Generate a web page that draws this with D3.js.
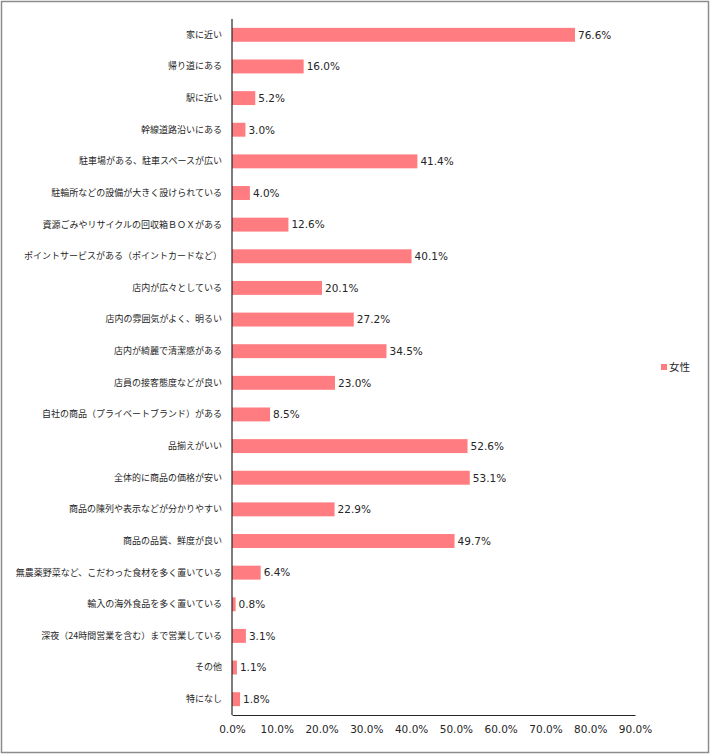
<!DOCTYPE html>
<html>
<head>
<meta charset="utf-8">
<script src="https://cdn.jsdelivr.net/npm/d3@7"></script>
<style>
  body { margin: 0; background: #fff; }
  svg { display: block; }
</style>
</head>
<body>
<div id="chart"></div>
<script>
const categories = [
  "家に近い",
  "帰り道にある",
  "駅に近い",
  "幹線道路沿いにある",
  "駐車場がある、駐車スペースが広い",
  "駐輪所などの設備が大きく設けられている",
  "資源ごみやリサイクルの回収箱ＢＯＸがある",
  "ポイントサービスがある（ポイントカードなど）",
  "店内が広々としている",
  "店内の雰囲気がよく、明るい",
  "店内が綺麗で清潔感がある",
  "店員の接客態度などが良い",
  "自社の商品（プライベートブランド）がある",
  "品揃えがいい",
  "全体的に商品の価格が安い",
  "商品の陳列や表示などが分かりやすい",
  "商品の品質、鮮度が良い",
  "無農薬野菜など、こだわった食材を多く置いている",
  "輸入の海外食品を多く置いている",
  "深夜（24時間営業を含む）まで営業している",
  "その他",
  "特になし",
];
const femaleValues = [76.6, 16.0, 5.2, 3.0, 41.4, 4.0, 12.6, 40.1, 20.1, 27.2, 34.5, 23.0, 8.5, 52.6, 53.1, 22.9, 49.7, 6.4, 0.8, 3.1, 1.1, 1.8];
const xTicks = [0, 10, 20, 30, 40, 50, 60, 70, 80, 90];
const seriesName = "女性";

const width = 710;
const height = 754;
const margin = { top: 19, left: 232, right: 75, bottom: 39 };
const barColor = "#ff7c80";
const jpFont = "'Noto Sans CJK JP', sans-serif";
const numFont = "'DejaVu Sans', sans-serif";

const svg = d3.select("#chart").append("svg").attr("width", width).attr("height", height);

svg.append("rect")
  .attr("x", 1.5).attr("y", 1.5)
  .attr("width", width - 3).attr("height", height - 3)
  .attr("fill", "#fff").attr("stroke", "#8c8c8c").attr("stroke-width", 1.5);

const x = d3.scaleLinear().domain([0, 90]).range([margin.left, width - margin.right]);
const y = d3.scaleBand().domain(categories).range([margin.top, height - margin.bottom]).paddingInner(0.56).paddingOuter(0.28);

const data = categories.map((c, i) => ({ category: c, value: femaleValues[i] }));

// bars
svg.append("g").selectAll("rect").data(data).join("rect")
  .attr("x", x(0))
  .attr("y", (d) => y(d.category))
  .attr("width", (d) => x(d.value) - x(0))
  .attr("height", y.bandwidth())
  .attr("fill", barColor);

// value labels
svg.append("g").selectAll("text").data(data).join("text")
  .attr("x", (d) => x(d.value) + 3)
  .attr("y", (d) => y(d.category) + y.bandwidth() / 2)
  .attr("dy", "0.36em")
  .attr("font-family", numFont)
  .attr("font-size", 10.5)
  .attr("fill", "#262626")
  .text((d) => d.value.toFixed(1) + "%");

// category axis
const yAxis = svg.append("g")
  .attr("transform", `translate(${x(0)},0)`)
  .call(d3.axisLeft(y).tickSize(0).tickPadding(10));
yAxis.select(".domain").attr("stroke", "#262626").attr("stroke-width", 1.2)
  .attr("d", `M0,${margin.top}V${height - margin.bottom}`);
yAxis.selectAll("text")
  .attr("font-family", jpFont)
  .attr("font-size", 9)
  .attr("fill", "#262626");

// value axis
const xAxis = svg.append("g")
  .attr("transform", `translate(0,${height - margin.bottom})`)
  .call(d3.axisBottom(x).tickValues(xTicks).tickSize(0).tickPadding(11).tickFormat((d) => d.toFixed(1) + "%"));
xAxis.select(".domain").attr("stroke", "#262626").attr("stroke-width", 1.2);
xAxis.selectAll("text")
  .attr("font-family", numFont)
  .attr("font-size", 10.5)
  .attr("fill", "#262626");

// legend
const legend = svg.append("g").attr("transform", "translate(661,367)");
legend.append("rect").attr("x", 0).attr("y", -3).attr("width", 6).attr("height", 6).attr("fill", barColor);
legend.append("text")
  .attr("x", 8).attr("dy", "0.36em")
  .attr("font-family", jpFont).attr("font-size", 10.5).attr("fill", "#262626")
  .text(seriesName);
</script>
</body>
</html>
